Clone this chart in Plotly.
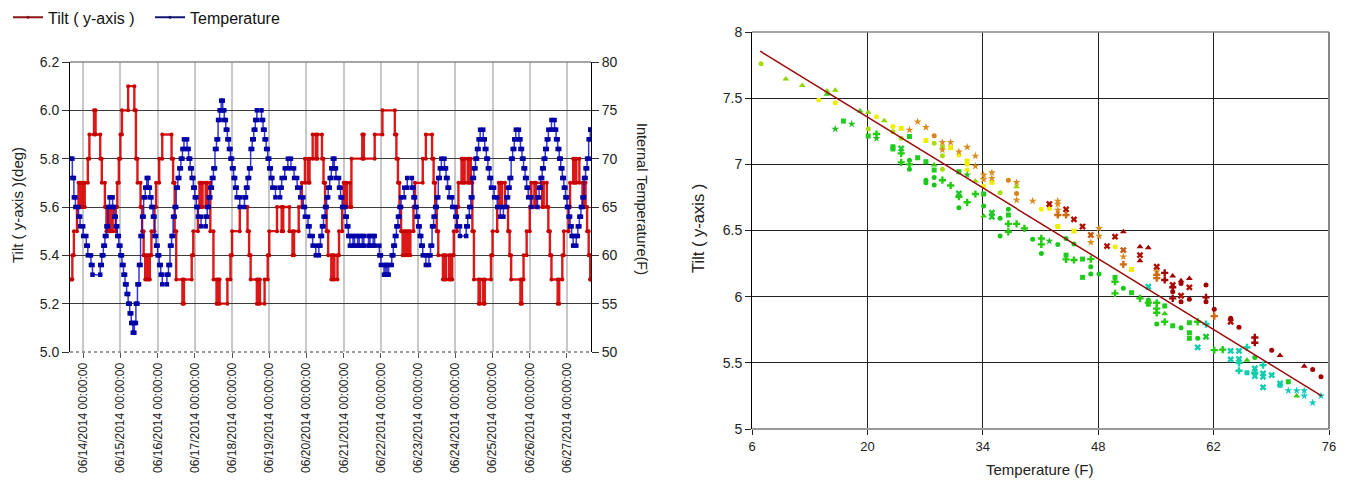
import plotly.graph_objects as go
import pandas as pd

# ---------------- Left chart data (hourly readings from 06/13/2014 16:00) ----------------
start_time = "2014-06-13 16:00"

temperature_f = [
    70, 68, 66, 65, 65, 64, 63, 63, 62, 62, 61, 60, 60, 59, 58, 58, 58, 58, 58, 59, 60, 61, 62, 63,
    65, 66, 66, 65, 64, 63, 62, 61, 60, 59, 58, 57, 56, 55, 54, 53, 52, 53, 55, 57, 59, 62, 64, 66,
    67, 68, 67, 66, 65, 64, 62, 61, 60, 59, 58, 57, 57, 57, 58, 59, 61, 62, 64, 65, 67, 68, 69, 70,
    71, 72, 72, 71, 70, 69, 68, 67, 66, 65, 64, 64, 63, 63, 63, 64, 65, 66, 67, 68, 69, 71, 72, 74,
    75, 76, 75, 74, 73, 72, 71, 70, 69, 68, 67, 66, 66, 65, 65, 65, 66, 67, 68, 69, 71, 72, 73, 74,
    75, 75, 75, 74, 73, 72, 71, 70, 69, 68, 67, 67, 66, 66, 66, 67, 68, 68, 69, 69, 70, 70, 69, 69,
    68, 68, 67, 67, 66, 66, 65, 64, 64, 63, 62, 62, 61, 61, 60, 60, 61, 62, 63, 64, 65, 66, 67, 68,
    69, 70, 69, 68, 68, 67, 66, 65, 65, 64, 63, 62, 61, 61, 62, 61, 61, 62, 61, 61, 62, 61, 61, 61,
    62, 61, 61, 62, 61, 61, 61, 60, 59, 59, 58, 59, 58, 59, 59, 60, 61, 62, 63, 64, 65, 66, 66, 67,
    67, 68, 68, 68, 67, 66, 65, 64, 63, 62, 61, 60, 60, 59, 59, 60, 61, 63, 64, 65, 66, 68, 69, 70,
    70, 69, 68, 67, 66, 66, 65, 65, 64, 63, 63, 62, 62, 62, 62, 63, 64, 65, 66, 68, 69, 70, 71, 72,
    73, 73, 72, 71, 70, 69, 68, 67, 67, 66, 66, 65, 65, 64, 64, 65, 65, 66, 67, 68, 70, 71, 72, 73,
    73, 72, 71, 70, 69, 68, 67, 66, 66, 65, 65, 65, 65, 66, 67, 68, 69, 70, 71, 72, 73, 73, 74, 74,
    73, 72, 71, 70, 69, 68, 67, 66, 65, 64, 63, 62, 61, 61, 62, 63, 64, 65, 66, 68, 69, 70, 72, 73,
]

tilt_deg = [
    5.3, 5.4, 5.5, 5.5, 5.6, 5.7, 5.6, 5.7, 5.6, 5.7, 5.7, 5.8, 5.9, 5.9, 5.9, 6.0, 5.9, 5.9, 5.9, 5.8, 5.7, 5.7, 5.6, 5.5,
    5.6, 5.5, 5.6, 5.5, 5.5, 5.6, 5.7, 5.8, 5.9, 6.0, 6.0, 6.0, 6.0, 6.1, 6.1, 6.1, 6.1, 6.0, 5.8, 5.7, 5.7, 5.6, 5.5, 5.4,
    5.3, 5.4, 5.3, 5.4, 5.5, 5.5, 5.6, 5.7, 5.7, 5.8, 5.8, 5.9, 5.9, 5.9, 5.9, 5.9, 5.9, 5.8, 5.7, 5.5, 5.3, 5.3, 5.3, 5.3,
    5.2, 5.3, 5.3, 5.3, 5.3, 5.3, 5.4, 5.5, 5.5, 5.5, 5.6, 5.7, 5.6, 5.7, 5.7, 5.6, 5.7, 5.7, 5.5, 5.5, 5.3, 5.3, 5.2, 5.3,
    5.2, 5.2, 5.2, 5.2, 5.2, 5.3, 5.3, 5.4, 5.5, 5.5, 5.5, 5.5, 5.5, 5.6, 5.6, 5.6, 5.6, 5.6, 5.5, 5.4, 5.3, 5.3, 5.3, 5.3,
    5.2, 5.3, 5.2, 5.2, 5.2, 5.3, 5.3, 5.4, 5.5, 5.5, 5.5, 5.5, 5.5, 5.6, 5.6, 5.6, 5.5, 5.6, 5.6, 5.6, 5.6, 5.5, 5.5, 5.4,
    5.5, 5.5, 5.5, 5.6, 5.6, 5.7, 5.7, 5.8, 5.8, 5.7, 5.8, 5.8, 5.9, 5.9, 5.8, 5.9, 5.9, 5.9, 5.8, 5.7, 5.6, 5.5, 5.4, 5.4,
    5.3, 5.4, 5.3, 5.3, 5.4, 5.5, 5.5, 5.6, 5.7, 5.6, 5.7, 5.7, 5.6, 5.8, 5.8, 5.8, 5.8, 5.8, 5.8, 5.8, 5.9, 5.8, 5.8, 5.8,
    5.8, 5.8, 5.8, 5.8, 5.9, 5.9, 5.9, 5.9, 5.9, 6.0, 6.0, 6.0, 6.0, 6.0, 6.0, 6.0, 6.0, 5.9, 5.8, 5.7, 5.6, 5.5, 5.4, 5.5,
    5.4, 5.5, 5.4, 5.5, 5.5, 5.6, 5.7, 5.7, 5.7, 5.7, 5.7, 5.8, 5.8, 5.9, 5.9, 5.9, 5.9, 5.8, 5.7, 5.6, 5.5, 5.4, 5.4, 5.4,
    5.3, 5.4, 5.3, 5.3, 5.4, 5.3, 5.4, 5.5, 5.5, 5.6, 5.7, 5.7, 5.8, 5.7, 5.8, 5.8, 5.7, 5.8, 5.7, 5.5, 5.3, 5.3, 5.3, 5.2,
    5.3, 5.3, 5.2, 5.3, 5.3, 5.3, 5.3, 5.4, 5.5, 5.5, 5.5, 5.6, 5.7, 5.6, 5.7, 5.7, 5.6, 5.6, 5.5, 5.4, 5.3, 5.3, 5.3, 5.3,
    5.3, 5.3, 5.2, 5.3, 5.4, 5.4, 5.5, 5.5, 5.6, 5.7, 5.7, 5.6, 5.7, 5.7, 5.7, 5.7, 5.6, 5.7, 5.7, 5.6, 5.5, 5.4, 5.3, 5.3,
    5.3, 5.3, 5.2, 5.3, 5.3, 5.4, 5.5, 5.5, 5.5, 5.6, 5.7, 5.7, 5.8, 5.7, 5.8, 5.8, 5.7, 5.7, 5.6, 5.7, 5.6, 5.5, 5.4, 5.3,
]

day_tick_dates = ["2014-06-14", "2014-06-15", "2014-06-16", "2014-06-17", "2014-06-18", "2014-06-19", "2014-06-20",
                  "2014-06-21", "2014-06-22", "2014-06-23", "2014-06-24", "2014-06-25", "2014-06-26", "2014-06-27"]
day_tick_labels = ["06/14/2014 00:00:00", "06/15/2014 00:00:00", "06/16/2014 00:00:00", "06/17/2014 00:00:00",
                   "06/18/2014 00:00:00", "06/19/2014 00:00:00", "06/20/2014 00:00:00", "06/21/2014 00:00:00",
                   "06/22/2014 00:00:00", "06/23/2014 00:00:00", "06/24/2014 00:00:00", "06/25/2014 00:00:00",
                   "06/26/2014 00:00:00", "06/27/2014 00:00:00"]
tilt_ticks = [5.0, 5.2, 5.4, 5.6, 5.8, 6.0, 6.2]
temp_ticks = [50, 55, 60, 65, 70, 75, 80]

# ---------------- Right chart data (scatter of tilt vs temperature) ----------------
sc_temp = [
    7.1, 10.1, 12.1, 14.1, 15.1, 15.1, 16.1, 16.1, 16.1, 17.1, 18.1, 19.1, 20.1, 20.1, 20.1, 21.1, 21.1, 21.1, 22.05,
    23.1, 23.1, 23.1, 23.1, 24.1, 24.1, 24.1, 24.1, 24.1, 25.1, 25.1, 25.1, 25.1, 25.1, 26.1, 26.1, 27.1, 27.1, 27.1,
    27.1, 27.1, 28.1, 28.1, 28.1, 28.1, 28.1, 28.1, 29.1, 29.1, 29.1, 29.1, 29.1, 29.1, 30.1, 30.1, 30.1, 31.1, 31.1,
    31.1, 31.1, 31.1, 31.1, 32.1, 32.1, 32.1, 32.1, 32.1, 32.1, 33.1, 33.1, 33.1, 33.1, 34.1, 34.1, 34.1, 34.1, 34.1,
    34.1, 35.1, 35.1, 35.1, 35.1, 35.1, 36.1, 36.1, 36.1, 37.1, 37.1, 37.1, 37.1, 37.1, 38.1, 38.1, 38.1, 38.1, 38.1,
    39.05, 40.05, 40.05, 41.1, 41.1, 41.1, 41.1, 42.07, 42.07, 42.07, 43.1, 43.1, 43.1, 43.1, 43.1, 43.1, 44.1, 44.1,
    44.1, 44.1, 44.1, 45.06, 45.06, 45.06, 45.06, 46.1, 46.1, 47.1, 47.1, 47.1, 47.1, 48.1, 48.1, 49.07, 50.04, 50.04,
    51.05, 51.05, 51.05, 51.05, 52.05, 53.07, 53.07, 53.07, 54.08, 55.1,
    46.1, 47.1, 48.1, 50.04, 50.04, 50.04, 51.05, 52.05, 53.07, 54.08, 54.08, 54.08, 54.08, 55.1, 55.1, 55.1, 55.1,
    55.1, 55.1, 55.1, 56.07, 56.07, 56.07, 56.07, 56.07, 57.04, 57.04, 57.04, 57.04, 57.04, 57.04, 58.05, 58.05,
    58.05, 58.05, 58.05, 59.06, 59.06, 59.06, 59.06, 59.06, 59.06, 60.07, 60.07, 60.07, 61.08, 61.08, 61.08, 61.08,
    61.08, 62.08, 62.08, 62.08, 63.1, 64.07, 64.07, 64.07, 64.07, 65.08, 65.08, 65.08, 65.08, 65.08, 66.05, 66.05,
    66.05, 67.0, 67.0, 67.0, 67.0, 67.0, 67.0, 68.0, 68.0, 68.0, 68.0, 69.05, 69.05, 70.06, 70.06, 70.06, 71.06,
    71.06, 72.08, 72.08, 73.0, 73.0, 73.0, 74.02, 74.02, 75.03, 75.03,
]
sc_tilt = [
    7.76, 7.645, 7.595, 7.486, 7.554, 7.53, 7.56, 7.466, 7.267, 7.327, 7.305, 7.403, 7.393, 7.267, 7.214, 7.36, 7.229,
    7.196, 7.33, 7.285, 7.247, 7.133, 7.116, 7.272, 7.197, 7.12, 7.083, 7.015, 7.26, 7.21, 7.03, 7.0, 6.962, 7.322,
    7.05, 7.28, 7.18, 7.02, 6.88, 6.86, 7.216, 7.16, 6.995, 6.957, 6.90, 6.844, 7.166, 7.133, 7.11, 7.065, 6.962, 6.88,
    7.166, 7.126, 6.84, 7.095, 7.07, 6.944, 6.78, 6.755, 6.672, 7.13, 7.025, 7.0, 6.957, 6.92, 6.713, 7.063, 6.987,
    6.874, 6.776, 6.92, 6.886, 6.836, 6.776, 6.685, 6.61, 6.937, 6.895, 6.864, 6.634, 6.604, 6.786, 6.592, 6.458, 6.88,
    6.66, 6.617, 6.55, 6.49, 6.864, 6.83, 6.78, 6.73, 6.55,
    6.516, 6.723, 6.433, 6.66, 6.44, 6.395, 6.327, 6.70, 6.667, 6.42, 6.723, 6.70, 6.655, 6.617, 6.53, 6.395, 6.66,
    6.617, 6.44, 6.314, 6.282, 6.584, 6.496, 6.398, 6.277, 6.53, 6.284, 6.466, 6.41, 6.284, 6.226, 6.516, 6.458, 6.382,
    6.453, 6.377, 6.49, 6.352, 6.302, 6.244, 6.206, 6.377, 6.314, 6.272, 6.37, 6.226,
    6.146, 6.171, 6.171, 6.146, 6.113, 6.025, 6.063, 6.03, 5.987, 6.075, 5.974, 5.955, 5.944, 6.19, 6.165, 6.14, 5.954,
    5.91, 5.878, 5.793, 6.18, 6.126, 5.93, 5.87, 5.81, 6.156, 6.088, 6.07, 6.037, 5.987, 5.78, 6.12, 6.10, 6.007, 5.962,
    5.765, 6.138, 6.07, 5.98, 5.803, 5.727, 5.685, 5.81, 5.685, 5.617, 6.088, 5.995, 5.962, 5.793, 5.697, 5.904, 5.853,
    5.596, 5.60, 5.836, 5.81, 5.59, 5.526, 5.768, 5.59, 5.53, 5.50, 5.44, 5.617, 5.52, 5.425, 5.692, 5.652, 5.541,
    5.458, 5.425, 5.40, 5.483, 5.42, 5.395, 5.315, 5.596, 5.407, 5.556, 5.345, 5.33, 5.357, 5.29, 5.29, 5.25, 5.475,
    5.29, 5.25, 5.45, 5.198, 5.395, 5.25,
]
sc_series = list(
    "abbcbqbcpnpqbanco" "pbcannd" "aroo" "enmom" "en" "ednmm" "faqnmm" "eaeaao" "edo" "ecnrom" "edccpo" "eebo"
    "eecnmq" "eedrr" "amm" "fmnoo" "ebfe" "o"
    "oemcoomgcp" "eeekdm" "gkmno" "gdmo" "gn" "leom" "ee" "ggc" "hle" "kd" "hgh" "hg"
    "nmmnoomnosmon" "ekkooom" "jjnqo" "hgjijn" "higim" "hginnn" "oms" "ijitr" "iko" "o" "igss" "isstt"
    "tqv" "jjmsts" "tsss" "is" "hsv" "nu" "uq" "huu" "iu" "iu"
)

trend_temp = [7.0, 75.1]
trend_tilt = [7.855, 5.25]
temp_axis_ticks = [6, 20, 34, 48, 62, 76]
tilt_axis_ticks = [5, 5.5, 6, 6.5, 7, 7.5, 8]

# ---------------- styles ----------------
FONT = "Arial, Liberation Sans, sans-serif"
series_style = {
    "a": ("circle", "#a8dc10"), "b": ("triangle-up", "#8fd600"), "c": ("circle", "#eef000"),
    "d": ("square", "#eeee00"), "e": ("star", "#dc8c1e"), "f": ("circle", "#d88418"),
    "g": ("x", "#b01000"), "h": ("triangle-up", "#a00000"), "i": ("circle", "#a00000"),
    "j": ("cross", "#a00808"), "k": ("cross", "#d06a10"), "l": ("x", "#c85a10"),
    "m": ("circle", "#18c818"), "n": ("square", "#20cc20"), "o": ("cross", "#22cc10"),
    "p": ("star", "#20c020"), "q": ("triangle-up", "#38cc10"), "r": ("x", "#20c830"),
    "s": ("x", "#10ccb0"), "t": ("cross", "#10d0a8"), "u": ("star", "#10ccc0"), "v": ("square", "#10ccb0"),
}

times = list(pd.date_range(start_time, periods=len(temperature_f), freq="h"))


def step_points(ts, vals):
    xs, ys = [ts[0]], [vals[0]]
    for i in range(1, len(vals)):
        if vals[i] != vals[i - 1]:
            xs += [ts[i], ts[i]]
            ys += [vals[i - 1], vals[i]]
    xs.append(ts[-1])
    ys.append(vals[-1])
    return xs, ys


tx, ty = step_points(times, tilt_deg)
hx, hy = step_points(times, temperature_f)

fig = go.Figure()

# legend entries
fig.add_trace(go.Scatter(x=[None], y=[None], mode="lines+markers", name="Tilt ( y-axis )",
                         line=dict(color="#8b1414", width=2), marker=dict(size=3, color="#8b1414"),
                         xaxis="x", yaxis="y"))
fig.add_trace(go.Scatter(x=[None], y=[None], mode="lines+markers", name="Temperature",
                         line=dict(color="#141470", width=2), marker=dict(size=3, color="#141470"),
                         xaxis="x", yaxis="y"))

fig.add_trace(go.Scatter(x=tx, y=ty, mode="lines+markers", showlegend=False,
                         line=dict(color="rgba(215,0,0,0.9)", width=2.4),
                         marker=dict(size=4, color="#c80000", symbol="circle"),
                         xaxis="x", yaxis="y"))
fig.add_trace(go.Scatter(x=hx, y=hy, mode="lines+markers", showlegend=False,
                         line=dict(color="rgba(20,20,200,0.85)", width=1.5),
                         marker=dict(size=4.5, color="#0000a8", symbol="square"),
                         xaxis="x", yaxis="y2"))

# scatter groups
for key, (sym, col) in series_style.items():
    idx = [i for i, s in enumerate(sc_series) if s == key]
    if not idx:
        continue
    size = 6 if sym in ("star", "cross", "x", "triangle-up") else 5
    fig.add_trace(go.Scatter(x=[sc_temp[i] for i in idx], y=[sc_tilt[i] for i in idx],
                             mode="markers", showlegend=False,
                             marker=dict(symbol=sym, color=col, size=size, line=dict(width=0)),
                             xaxis="x2", yaxis="y3"))

fig.add_trace(go.Scatter(x=trend_temp, y=trend_tilt, mode="lines", showlegend=False,
                         line=dict(color="#9a0a0a", width=1.5), xaxis="x2", yaxis="y3"))

# page body has an 8px margin: figure occupies window pixels 8..1346 / 8..483
W, H, OFF = 1338, 475, 8


def px(x):
    return (x - OFF) / W


def py(y):
    return (483 - y) / H


L0, L1 = px(70), px(591)
LB, LT = py(352), py(62)
R0, R1 = px(752), px(1329)
RB, RT = py(429), py(32)

fig.update_layout(
    width=W, height=H, autosize=False,
    margin=dict(l=0, r=0, t=0, b=0, autoexpand=False),
    paper_bgcolor="white", plot_bgcolor="white",
    font=dict(family=FONT, size=14, color="#222"),
    showlegend=True,
    legend=dict(orientation="h", x=0.0, y=1.016, xanchor="left", yanchor="top",
                font=dict(size=16, color="#111"), bgcolor="rgba(0,0,0,0)", itemwidth=30,
                entrywidth=97, entrywidthmode="pixels"),
    xaxis=dict(domain=[L0, L1], anchor="y", type="date", automargin=False,
               range=["2014-06-13 15:30", "2014-06-27 15:30"],
               tickmode="array", tickvals=day_tick_dates, ticktext=day_tick_labels,
               tickangle=-90, tickfont=dict(size=12, color="#222"),
               ticks="outside", ticklen=5, tickcolor="#555",
               showgrid=True, gridcolor="#c8c8c8", gridwidth=2,
               showline=False, zeroline=False),
    yaxis=dict(domain=[LB, LT], anchor="x", range=[5.0, 6.2], automargin=False,
               tickmode="array", tickvals=tilt_ticks, ticktext=[f"{v:.1f}" for v in tilt_ticks],
               ticks="outside", ticklen=7, tickcolor="#333",
               showgrid=True, gridcolor="#3c3c3c", gridwidth=1,
               showline=True, linecolor="black", linewidth=1, zeroline=False,
               tickfont=dict(size=14)),
    yaxis2=dict(overlaying="y", side="right", anchor="x", range=[50, 80], automargin=False,
                tickmode="array", tickvals=temp_ticks,
                ticks="outside", ticklen=7, tickcolor="#333",
                showgrid=False, showline=True, linecolor="black", linewidth=1, zeroline=False,
                tickfont=dict(size=14)),
    xaxis2=dict(domain=[R0, R1], anchor="y3", range=[6, 76], automargin=False,
                tickmode="array", tickvals=temp_axis_ticks,
                ticks="outside", ticklen=5, tickcolor="#222",
                showgrid=True, gridcolor="#222", gridwidth=1,
                showline=False, zeroline=False, tickfont=dict(size=13)),
    yaxis3=dict(domain=[RB, RT], anchor="x2", range=[5, 8], automargin=False,
                tickmode="array", tickvals=tilt_axis_ticks,
                ticks="outside", ticklen=6, tickcolor="#222",
                showgrid=True, gridcolor="#222", gridwidth=1,
                showline=True, linecolor="black", linewidth=1, zeroline=False,
                tickfont=dict(size=14)),
    shapes=[
        dict(type="line", xref="paper", yref="paper", x0=L0, x1=L1, y0=LT, y1=LT,
             line=dict(color="#888", width=1.5), layer="above"),
        dict(type="line", xref="paper", yref="paper", x0=L0, x1=L1, y0=LB, y1=LB,
             line=dict(color="#999", width=2, dash="dot"), layer="above"),
        dict(type="line", xref="paper", yref="paper", x0=R0, x1=R1, y0=RT, y1=RT,
             line=dict(color="#888", width=1.5), layer="above"),
        dict(type="line", xref="paper", yref="paper", x0=R0, x1=R1, y0=RB, y1=RB,
             line=dict(color="#999", width=2), layer="above"),
        dict(type="line", xref="paper", yref="paper", x0=R1, x1=R1, y0=RB, y1=RT,
             line=dict(color="#888", width=2), layer="above"),
    ],
    annotations=[
        dict(text="Tilt ( y-axis )(deg)", xref="paper", yref="paper", x=px(17), y=py(205),
             xanchor="center", yanchor="middle",
             textangle=-90, showarrow=False, font=dict(size=15, color="#222")),
        dict(text="Internal Temperature(F)", xref="paper", yref="paper", x=px(642), y=py(199),
             xanchor="center", yanchor="middle",
             textangle=90, showarrow=False, font=dict(size=14.5, color="#222")),
        dict(text="Tilt ( y-axis )", xref="paper", yref="paper", x=px(698), y=py(229),
             xanchor="center", yanchor="middle",
             textangle=-90, showarrow=False, font=dict(size=16.5, color="#222")),
        dict(text="Temperature (F)", xref="paper", yref="paper", x=px(1040), y=py(469),
             xanchor="center", yanchor="middle",
             showarrow=False, font=dict(size=15, color="#222")),
    ],
)

fig.write_html("out.html")
